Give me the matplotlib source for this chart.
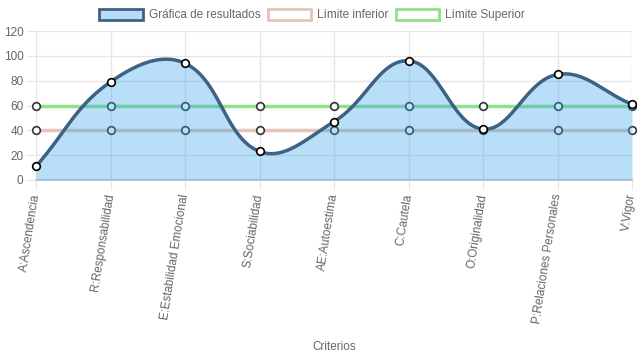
import numpy as np
from matplotlib import pyplot as plt
from matplotlib.patches import Patch

criterios = ["A:Ascendencia", "R:Responsabilidad", "E:Estabilidad Emocional",
             "S:Sociabilidad", "AE:Autoestima", "C:Cautela", "O:Originalidad",
             "P:Relaciones Personales", "V:Vigor"]
resultados = [11, 79, 94, 23, 47, 96, 41, 85, 61]
limite_inferior = [40, 40, 40, 40, 40, 40, 40, 40, 40]
limite_superior = [60, 60, 60, 60, 60, 60, 60, 60, 60]

plt.rcParams['font.family'] = ['Liberation Sans', 'DejaVu Sans']
fs = 8.5


def curva_suave(ax, xs, ys, tension=0.4, n=40):
    # spline tipo chart.js, calculado en pixeles
    pts = ax.transData.transform(np.column_stack([xs, ys]))
    ctrl = []
    for i in range(len(pts)):
        p0 = pts[max(i - 1, 0)]
        p1 = pts[i]
        p2 = pts[min(i + 1, len(pts) - 1)]
        d01 = np.hypot(*(p1 - p0))
        d12 = np.hypot(*(p2 - p1))
        tot = d01 + d12
        s01 = d01 / tot if tot else 0
        s12 = d12 / tot if tot else 0
        ctrl.append((p1 - tension * s01 * (p2 - p0), p1 + tension * s12 * (p2 - p0)))
    out = []
    t = np.linspace(0, 1, n)[:, None]
    for i in range(len(pts) - 1):
        a, b = pts[i], ctrl[i][1]
        c, d = ctrl[i + 1][0], pts[i + 1]
        seg = (1 - t) ** 3 * a + 3 * (1 - t) ** 2 * t * b + 3 * (1 - t) * t ** 2 * c + t ** 3 * d
        out.append(seg if i == 0 else seg[1:])
    out = np.vstack(out)
    return ax.transData.inverted().transform(out)


fig = plt.figure(figsize=(6.37, 3.59), dpi=100)
ax = fig.add_axes([36 / 637, 1 - 180 / 359, 596 / 637, 149 / 359])
x = np.arange(len(criterios))
ax.set_xlim(0, len(criterios) - 1)
ax.set_ylim(0, 120)

azul = '#3e6283'
relleno = (54 / 255, 162 / 255, 235 / 255, 0.35)
rosa = '#e3c6b9'
verde = '#8ee28a'

ax.plot(x, limite_inferior, color=rosa, lw=2.5, zorder=2)
ax.plot(x, limite_superior, color=verde, lw=2.5, zorder=2)
ax.plot(x, limite_inferior, 'o', ms=5.5, mfc='white', mec='#333333', mew=1.2, zorder=2, clip_on=False)
ax.plot(x, limite_superior, 'o', ms=5.5, mfc='white', mec='#333333', mew=1.2, zorder=2, clip_on=False)

cv = curva_suave(ax, x, resultados)
ax.fill_between(cv[:, 0], cv[:, 1], 0, color=relleno, lw=0, zorder=3)
ax.plot(cv[:, 0], cv[:, 1], color=azul, lw=2.5, zorder=4, solid_capstyle='round')
ax.plot(x, resultados, 'o', ms=5.5, mfc='white', mec='black', mew=1.2, zorder=5, clip_on=False)

ax.set_yticks(range(0, 121, 20))
ax.set_xticks(x)
ax.set_xticklabels(criterios, rotation=81, rotation_mode='anchor', ha='right', va='center')
ax.grid(True, color='#e6e6e6', lw=1)
ax.set_axisbelow(True)
for s in ['top', 'right', 'left']:
    ax.spines[s].set_visible(False)
ax.spines['bottom'].set_color('#d0d0d0')
ax.spines['bottom'].set_linewidth(1.5)
ax.tick_params(axis='both', colors='#e6e6e6', labelcolor='#666666', labelsize=fs, length=7)
ax.tick_params(axis='y', pad=2)
ax.tick_params(axis='x', pad=3)

fig.text(334 / 637, 1 - 347 / 359, 'Criterios', ha='center', va='center', fontsize=fs, color='#666666')

handles = [Patch(facecolor='#b8dbf7', edgecolor=azul, lw=2),
           Patch(facecolor='white', edgecolor=rosa, lw=2),
           Patch(facecolor='white', edgecolor=verde, lw=2)]
etiquetas = ['Gráfica de resultados', 'Límite inferior', 'Límite Superior']
fig.legend(handles, etiquetas, loc='center', bbox_to_anchor=(0.49, 1 - 15 / 359), ncol=3,
           frameon=False, fontsize=fs, labelcolor='#666666', handlelength=3.7, handleheight=1.1,
           handletextpad=0.5, columnspacing=0.6)

fig.savefig('out.png', dpi=100)
